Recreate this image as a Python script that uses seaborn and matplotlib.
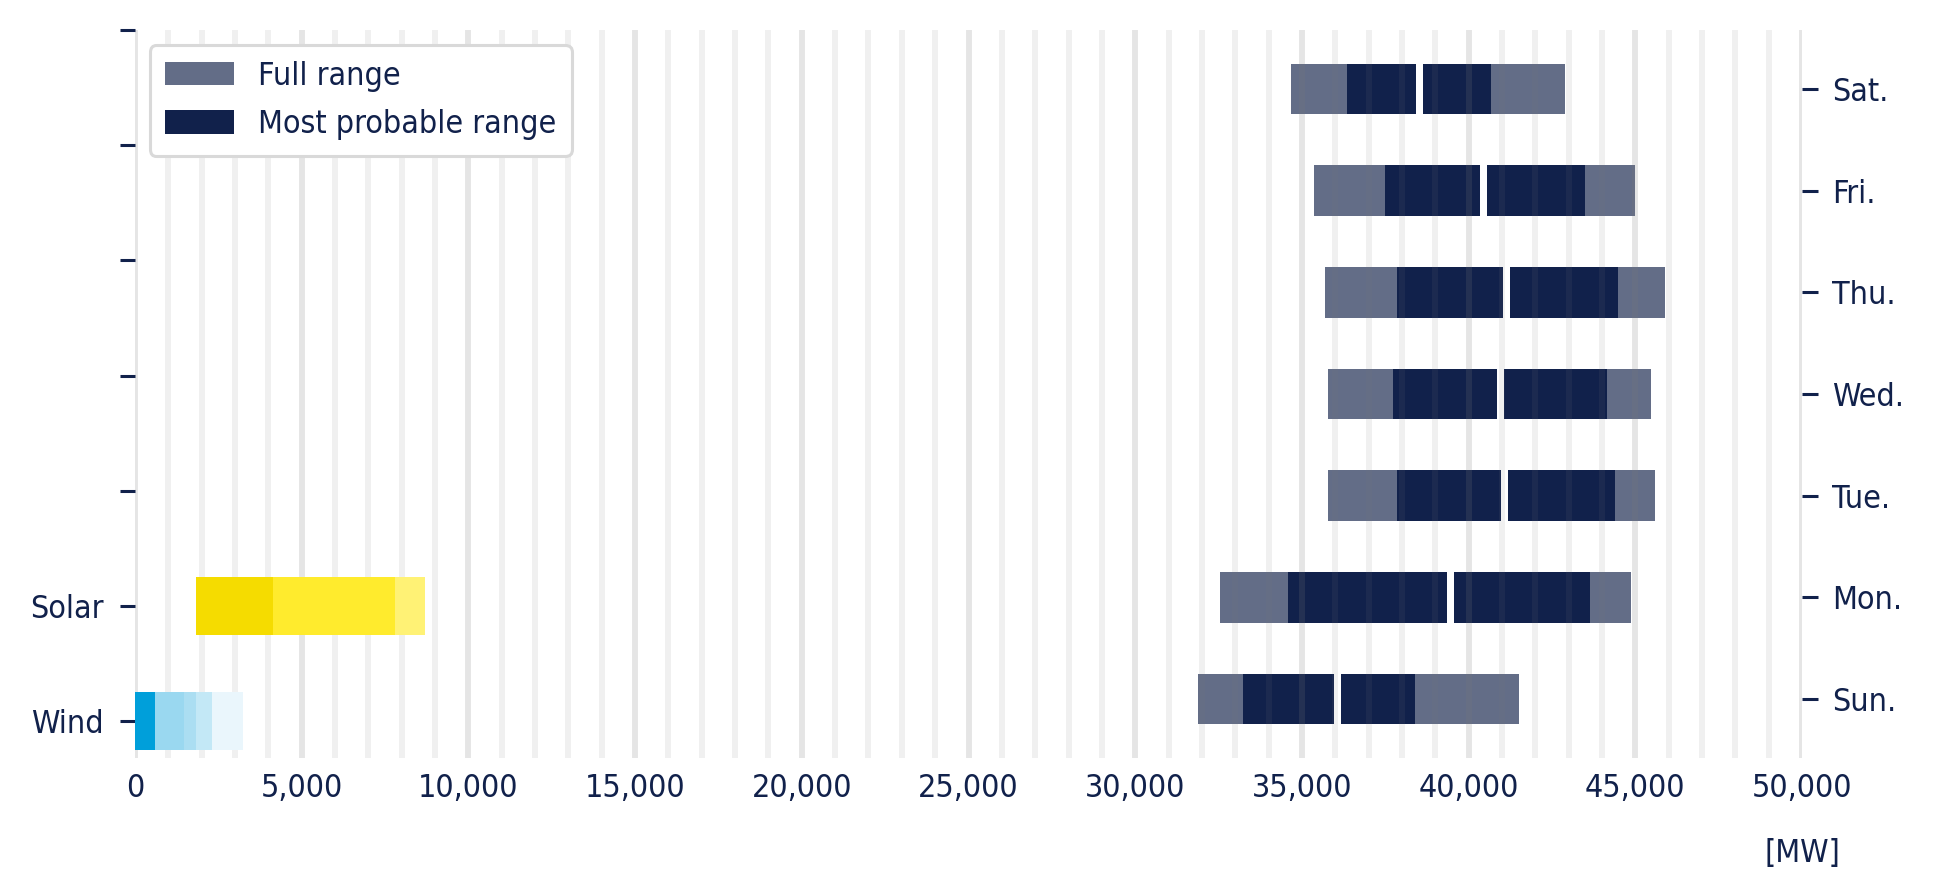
import os
import numpy as np
import pandas as pd
import matplotlib
matplotlib.use("Agg")
import matplotlib.pyplot as plt
from matplotlib import font_manager as fm
from matplotlib.patches import Patch
from matplotlib.ticker import MultipleLocator, StrMethodFormatter
import seaborn as sns

# ---------------- data ----------------
days = ["Sun.", "Mon.", "Tue.", "Wed.", "Thu.", "Fri.", "Sat."]
full_low = [31890, 32550, 35790, 35790, 35700, 35370, 34680]
full_high = [41520, 44880, 45600, 45480, 45900, 45000, 42900]
prob_low = [33240, 34590, 37860, 37740, 37860, 37500, 36360]
prob_high = [38400, 43650, 44400, 44160, 44490, 43500, 40680]
median = [36060, 39465, 41085, 40965, 41145, 40440, 38535]

sources = ["Wind", "Solar"]
wind_edges = [0, 600, 1470, 1830, 2310, 3240]
solar_edges = [1830, 4150, 7790, 8690]

legend_labels = ["Full range", "Most probable range"]
x_unit = "[MW]"

# ---------------- style ----------------
navy = "#11214b"
full_color = "#636d87"
prob_color = "#11214b"
wind_colors = ["#009fda", "#9ad8f0", "#abdef2", "#c3e8f6", "#eaf6fc"]
solar_colors = ["#f5dc00", "#ffeb2d", "#fff275"]
gap = 200

sns.set_theme(style="white")

cond = [f for f in fm.fontManager.ttflist
        if os.path.basename(f.fname) == "DejaVuSansCondensed.ttf"]
if cond:
    plt.rcParams["font.family"] = [cond[0].name]
    plt.rcParams["font.stretch"] = cond[0].stretch
    fs = 23
else:
    plt.rcParams["font.family"] = ["DejaVu Sans"]
    fs = 21

fig = plt.figure(figsize=(19.37, 8.94), dpi=100)
ax = fig.add_axes([0.0697, 0.1521, 0.8606, 0.8143])
ax_sw = ax.twinx()


def seg_bars(axis, pos, left, right, color):
    df = pd.DataFrame({"pos": pos, "left": left,
                       "span": np.subtract(right, left)}).sort_values("pos")
    sns.barplot(data=df, x="span", y="pos", orient="h", native_scale=True,
                width=0.5, color=color, saturation=1, errorbar=None,
                left=df["left"].to_numpy(), linewidth=0, ax=axis)


pos_days = list(range(len(days)))
seg_bars(ax, pos_days, full_low, full_high, full_color)
seg_bars(ax, pos_days, np.subtract(median, gap / 2), np.add(median, gap / 2), "white")
seg_bars(ax, pos_days, prob_low, np.subtract(median, gap / 2), prob_color)
seg_bars(ax, pos_days, np.add(median, gap / 2), prob_high, prob_color)

for i, c in enumerate(wind_colors):
    seg_bars(ax_sw, [0], [wind_edges[i]], [wind_edges[i + 1]], c)
for i, c in enumerate(solar_colors):
    seg_bars(ax_sw, [1], [solar_edges[i]], [solar_edges[i + 1]], c)

# ---------------- axes ----------------
ax.set_xlim(0, 50000)
ax.set_ylim(-0.58, 6.58)
ax_sw.set_ylim(-0.32, 6.0)

ax.set_yticks(pos_days, days)
ax_sw.set_yticks(range(7), sources + [""] * 5)
ax.set_ylabel("")
ax_sw.set_ylabel("")

for a in (ax, ax_sw):
    for s in a.spines.values():
        s.set_visible(False)

ax.xaxis.set_major_locator(MultipleLocator(5000))
ax.xaxis.set_minor_locator(MultipleLocator(1000))
ax.xaxis.set_major_formatter(StrMethodFormatter("{x:,.0f}"))
ax.tick_params(axis="x", which="both", length=0, pad=11,
               labelsize=fs, labelcolor=navy)
ax.tick_params(axis="y", left=False, labelleft=False, right=True,
               labelright=True, length=11.5, width=2.2, color=navy, pad=10,
               labelsize=fs, labelcolor=navy)
ax_sw.tick_params(axis="y", left=True, labelleft=True, right=False,
                  labelright=False, length=10.8, width=2.2, color=navy,
                  pad=12, labelsize=fs, labelcolor=navy)

ax.grid(False)
ax_sw.grid(False)
ax.grid(True, which="major", axis="x", color="#7a7a7a", alpha=0.19,
        linewidth=4.3)
ax.grid(True, which="minor", axis="x", color="#7a7a7a", alpha=0.11,
        linewidth=4.3)
ax.set_axisbelow(False)

ax.set_xlabel(x_unit, fontsize=fs, color=navy)
ax.xaxis.set_label_coords(1.0, -0.11)

handles = [Patch(facecolor=full_color, edgecolor="none", label=legend_labels[0]),
           Patch(facecolor=prob_color, edgecolor="none", label=legend_labels[1])]
leg = ax.legend(handles=handles, loc="upper left",
                bbox_to_anchor=(0.009, 0.979), borderaxespad=0, fontsize=fs,
                handlelength=2.16, handleheight=0.74, handletextpad=0.75,
                labelspacing=0.55, borderpad=0.48, frameon=True,
                fancybox=True, framealpha=1, edgecolor="#d9d9d9")
leg.get_frame().set_linewidth(2.2)
for t in leg.get_texts():
    t.set_color(navy)

fig.savefig("out.png", dpi=100, facecolor="white")
